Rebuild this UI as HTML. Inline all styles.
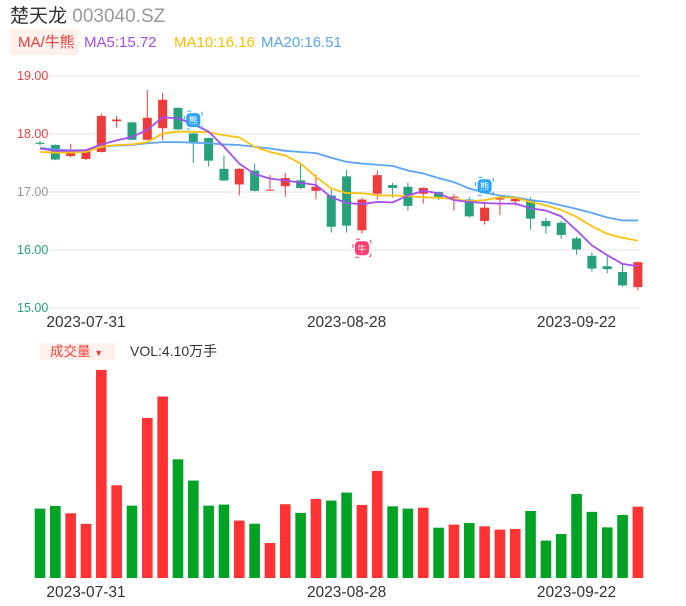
<!DOCTYPE html>
<html><head><meta charset="utf-8"><style>
body{margin:0;background:#fff;width:686px;height:606px;overflow:hidden;font-family:"Liberation Sans","Noto Sans CJK SC",sans-serif;}
svg{position:absolute;left:0;top:0}
</style></head><body>
<svg id="c" width="686" height="606" xmlns="http://www.w3.org/2000/svg">
<text x="10" y="22" font-size="19" fill="#333" font-family="Liberation Sans,Noto Sans CJK SC,sans-serif">楚天龙 <tspan fill="#999">003040.SZ</tspan></text>
<rect x="10" y="29" width="68" height="26" fill="#fff1ec"/>
<text x="18" y="47" font-size="15" fill="#f04040" font-family="Liberation Sans,Noto Sans CJK SC,sans-serif">MA/牛熊</text>
<text x="84" y="47" font-size="15" fill="#a64ef0">MA5:15.72</text>
<text x="174" y="47" font-size="15" fill="#ffbf00">MA10:16.16</text>
<text x="261" y="47" font-size="15" fill="#5aa5f5">MA20:16.51</text>
<rect x="40" y="343" width="75" height="17" fill="#fff1ec"/>
<text x="50" y="356" font-size="13.5" fill="#f04040" font-family="Liberation Sans,Noto Sans CJK SC,sans-serif">成交量 <tspan font-size="9">▼</tspan></text>
<text x="130" y="356" font-size="14" fill="#333" font-family="Liberation Sans,Noto Sans CJK SC,sans-serif">VOL:4.10万手</text>
<g id="g"></g>
</svg>
<script>
const opens=[17.85,17.81,17.62,17.57,17.69,18.22,18.20,17.90,18.10,18.45,18.01,17.93,17.40,17.13,17.37,17.03,17.10,17.20,17.02,16.94,17.27,16.34,16.97,17.12,17.09,16.97,17.00,16.90,16.87,16.50,16.87,16.84,16.87,16.50,16.47,16.20,15.90,15.72,15.62,15.36];
const closes=[17.83,17.56,17.67,17.70,18.31,18.25,17.90,18.28,18.59,18.08,17.86,17.54,17.20,17.40,17.02,17.04,17.24,17.07,17.09,16.40,16.42,16.87,17.29,17.07,16.76,17.07,16.91,16.92,16.58,16.73,16.89,16.88,16.54,16.41,16.26,16.01,15.68,15.67,15.39,15.79];
const highs=[17.88,17.82,17.83,17.72,18.35,18.31,18.21,18.76,18.71,18.46,18.02,17.94,17.63,17.41,17.49,17.29,17.33,17.50,17.30,17.05,17.38,16.90,17.37,17.16,17.16,17.08,17.01,16.96,16.91,16.83,16.92,16.91,16.91,16.56,16.51,16.23,15.96,15.89,15.76,15.80];
const lows=[17.80,17.55,17.60,17.55,17.68,18.11,17.89,17.89,17.89,18.07,17.50,17.44,17.19,16.94,17.01,17.02,16.92,17.05,16.87,16.30,16.30,16.28,16.87,16.90,16.68,16.80,16.86,16.68,16.56,16.44,16.60,16.77,16.35,16.28,16.19,15.92,15.63,15.60,15.37,15.30];
const ma5=[17.75,17.71,17.71,17.72,17.82,17.89,17.95,18.07,18.29,18.27,18.17,18.04,17.78,17.49,17.31,17.23,17.20,17.16,17.12,16.91,16.81,16.79,16.83,16.82,16.94,17.02,16.98,16.86,16.83,16.81,16.80,16.80,16.72,16.68,16.58,16.34,16.08,15.91,15.76,15.72];
const ma10=[17.69,17.68,17.68,17.69,17.78,17.81,17.82,17.86,18.01,18.04,18.04,18.03,17.98,17.94,17.78,17.69,17.63,17.49,17.26,17.06,16.98,16.98,16.94,16.94,16.93,16.91,16.90,16.88,16.84,16.86,16.91,16.90,16.83,16.77,16.69,16.57,16.41,16.28,16.21,16.16];
const ma20=[17.76,17.73,17.72,17.72,17.78,17.80,17.81,17.84,17.86,17.86,17.85,17.84,17.82,17.81,17.78,17.75,17.71,17.69,17.67,17.59,17.52,17.49,17.47,17.45,17.37,17.32,17.24,17.17,17.06,16.99,16.94,16.91,16.86,16.83,16.77,16.71,16.64,16.56,16.51,16.51];
const volumes=[3.99,4.14,3.72,3.11,11.96,5.33,4.16,9.20,10.43,6.82,5.60,4.16,4.22,3.30,3.12,2.01,4.24,3.74,4.54,4.45,4.91,4.20,6.15,4.12,3.99,4.04,2.89,3.07,3.16,2.97,2.78,2.82,3.85,2.15,2.53,4.83,3.80,2.91,3.62,4.10];
const priceTicks=[19,18,17,16,15];
const tickColors=["#f04040","#f04040","#999","#26a17b","#26a17b"];
const dateLabels=["2023-07-31","2023-08-28","2023-09-22"];
const dateIdx=[3,20,35];
const markers=[{i:10,p:18.24,t:"熊",c:"#2aa3ff"},{i:21,p:16.03,t:"牛",c:"#ff3d6e"},{i:29,p:17.10,t:"熊",c:"#2aa3ff"}];

const NS="http://www.w3.org/2000/svg";
const g=document.getElementById('g');
const xS=i=>40+i*15.33;
const yP=p=>308-(p-15)*58;
const yV=v=>578-v*17.4;
function mk(tag,a,parent){const e=document.createElementNS(NS,tag);for(const k in a)e.setAttribute(k,a[k]);(parent||g).appendChild(e);return e;}

priceTicks.forEach((p,k)=>{
  const l=mk('line',{x1:35,x2:640,y1:yP(p),y2:yP(p),stroke:'#e3e6f0','stroke-width':1});
  
  
  const t=mk('text',{x:17,y:yP(p)+4,'font-size':12.5,fill:tickColors[k]});
  t.textContent=p.toFixed(2);
  
  
});
dateLabels.forEach((d,k)=>{
  [327,597].forEach(yy=>{
    const t=mk('text',{x:xS(dateIdx[k]),y:yy,'font-size':15.5,fill:'#333','text-anchor':'middle'});
    t.textContent=d;
    
    
  });
});
opens.forEach((o,i)=>{
  const c=closes[i],up=c>=o,col=up?'#ee3c3c':'#26a17b';
  const x=xS(i);
  const w=mk('line',{x1:x,x2:x,y1:yP(highs[i]),y2:yP(lows[i]),stroke:col,'stroke-width':1});
  
  
  const top=yP(Math.max(o,c)),h=Math.max(1,Math.abs(yP(o)-yP(c)));
  const r=mk('rect',{x:x-4.5,y:top,width:9,height:h,fill:col});
  
  
  const vt=yV(volumes[i]);
  const v=mk('rect',{x:x-5.3,y:vt,width:10.6,height:578-vt,fill:up?'#ff3333':'#00a324'});
  
  
});
[[ma20,'#5aa5f5','ma20-line'],[ma10,'#ffc20e','ma10-line'],[ma5,'#a64ef0','ma5-line']].forEach(([arr,col,nm])=>{
  const p=mk('polyline',{points:arr.map((v,i)=>xS(i)+','+yP(v)).join(' '),fill:'none',stroke:col,'stroke-width':1.8,'stroke-linejoin':'round'});
  
  
});
markers.forEach(m=>{
  const x=xS(m.i),y=yP(m.p);
  const r=mk('rect',{x:x-7,y:y-7,width:14,height:14,rx:4,fill:m.c});
  
  
  const b=mk('rect',{x:x-9,y:y-9,width:18,height:18,rx:3,fill:'none',stroke:m.c,'stroke-width':1,'stroke-dasharray':'4 10'});
  
  
  const t=mk('text',{x:x,y:y+3.5,'font-size':9,fill:'#fff','text-anchor':'middle','font-family':'Noto Sans CJK SC,sans-serif'});
  t.textContent=m.t;
  
  
});
</script>
</body></html>
